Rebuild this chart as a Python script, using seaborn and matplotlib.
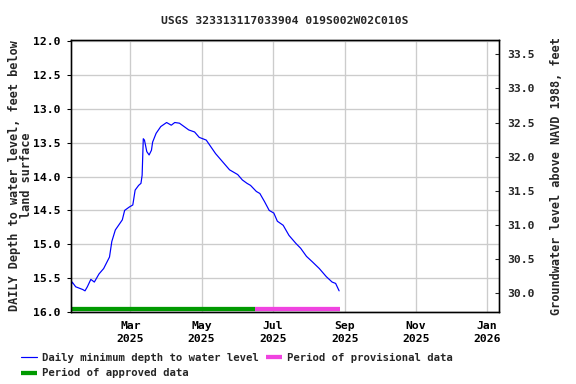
import matplotlib
matplotlib.use('Agg')
import matplotlib.pyplot as plt
import seaborn as sns
import pandas as pd

# daily minimum depth to water level (feet below land surface)
dates = ['2025-01-09', '2025-01-10', '2025-01-13', '2025-01-19', '2025-01-21',
         '2025-01-23', '2025-01-26', '2025-01-29', '2025-02-02', '2025-02-06',
         '2025-02-11', '2025-02-13', '2025-02-16', '2025-02-22', '2025-02-24',
         '2025-02-28', '2025-03-03', '2025-03-05', '2025-03-08', '2025-03-10',
         '2025-03-11', '2025-03-12', '2025-03-13', '2025-03-15', '2025-03-17',
         '2025-03-19', '2025-03-20', '2025-03-23', '2025-03-27', '2025-04-01',
         '2025-04-05', '2025-04-08', '2025-04-12', '2025-04-16', '2025-04-20',
         '2025-04-25', '2025-04-29', '2025-05-05', '2025-05-09', '2025-05-13',
         '2025-05-19', '2025-05-25', '2025-06-01', '2025-06-05', '2025-06-09',
         '2025-06-12', '2025-06-17', '2025-06-20', '2025-06-24', '2025-06-28',
         '2025-07-02', '2025-07-05', '2025-07-10', '2025-07-15', '2025-07-21',
         '2025-07-25', '2025-07-30', '2025-08-04', '2025-08-10', '2025-08-16',
         '2025-08-21', '2025-08-24', '2025-08-27']
depth = [15.61, 15.56, 15.63, 15.67, 15.69,
         15.63, 15.52, 15.56, 15.44, 15.36,
         15.19, 14.96, 14.79, 14.64, 14.50,
         14.45, 14.42, 14.20, 14.13, 14.10,
         13.98, 13.44, 13.46, 13.63, 13.68,
         13.61, 13.49, 13.36, 13.26, 13.20,
         13.24, 13.20, 13.21, 13.26, 13.31,
         13.34, 13.42, 13.46, 13.56, 13.66,
         13.78, 13.90, 13.97, 14.05, 14.10,
         14.13, 14.22, 14.25, 14.37, 14.50,
         14.54, 14.66, 14.72, 14.87, 14.99,
         15.06, 15.18, 15.26, 15.36, 15.48,
         15.56, 15.58, 15.69]

approved_period = ['2025-01-09', '2025-06-16']
provisional_period = ['2025-06-16', '2025-08-28']

x_ticks = ['2025-03-01', '2025-05-01', '2025-07-01', '2025-09-01',
           '2025-11-01', '2026-01-01']
x_labels = ['Mar\n2025', 'May\n2025', 'Jul\n2025', 'Sep\n2025',
            'Nov\n2025', 'Jan\n2026']
left_ticks = [12.0, 12.5, 13.0, 13.5, 14.0, 14.5, 15.0, 15.5, 16.0]
right_ticks = [30.0, 30.5, 31.0, 31.5, 32.0, 32.5, 33.0, 33.5]

sns.set_theme(style='white')
plt.rcParams['font.family'] = ['DejaVu Sans Mono']
plt.rcParams['font.weight'] = 'bold'
plt.rcParams['font.size'] = 8

df = pd.DataFrame({'date': pd.to_datetime(dates), 'depth': depth})

fig = plt.figure(figsize=(6, 4), dpi=96)
ax = fig.add_axes([0.1233, 0.188, 0.7427, 0.709])

sns.lineplot(data=df, x='date', y='depth', ax=ax, color='#0000ff',
             linewidth=0.9, label='Daily minimum depth to water level',
             legend=False)
ax.plot(pd.to_datetime(approved_period), [15.955, 15.955], color='#009a00',
        linewidth=3.2, solid_capstyle='butt', label='Period of approved data')
ax.plot(pd.to_datetime(provisional_period), [15.955, 15.955], color='#f043e0',
        linewidth=3.2, solid_capstyle='butt', label='Period of provisional data')

ax.set_xlim(pd.Timestamp('2025-01-09'), pd.Timestamp('2026-01-11'))
ax.set_ylim(16.0, 11.973)
ax.set_xticks(pd.to_datetime(x_ticks))
ax.set_xticklabels(x_labels, linespacing=1.3)
ax.set_yticks(left_ticks)
ax.set_yticklabels([f'{v:.1f}' for v in left_ticks])
ax.grid(True, color='#cccccc', linewidth=1)
ax.set_xlabel('')
ax.set_ylabel('DAILY Depth to water level, feet below\nland surface',
              fontsize=8.9, fontweight='bold', linespacing=0.95)
ax.yaxis.set_label_coords(-0.088, 0.5)
ax.set_title('USGS 323313117033904 019S002W02C010S', fontsize=8.5,
             fontweight='bold', pad=12)
ax.tick_params(axis='both', length=3, width=0.8, colors='black',
               labelsize=8.5, pad=5)
ax.tick_params(axis='x', length=0, pad=7)
for s in ax.spines.values():
    s.set_color('black')
    s.set_linewidth(1)

ax2 = ax.twinx()
ax2.set_ylim(29.726, 33.717)
ax2.set_yticks(right_ticks)
ax2.set_yticklabels([f'{v:.1f}' for v in right_ticks])
ax2.tick_params(axis='y', length=3, width=0.8, direction='in',
                labelsize=8.5, pad=6)
ax2.set_ylabel('Groundwater level above NAVD 1988, feet', fontsize=8.9,
               fontweight='bold', labelpad=12)
ax2.grid(False)
for s in ax2.spines.values():
    s.set_color('black')
    s.set_linewidth(1)

h, l = ax.get_legend_handles_labels()
fig.legend(h, l, loc='upper left', bbox_to_anchor=(0.036, 0.082), ncol=2,
           frameon=False, fontsize=8, handlelength=1.5, handletextpad=0.5,
           columnspacing=0.65, labelspacing=0.55, borderaxespad=0,
           borderpad=0)

fig.savefig('out.png', dpi=96)
